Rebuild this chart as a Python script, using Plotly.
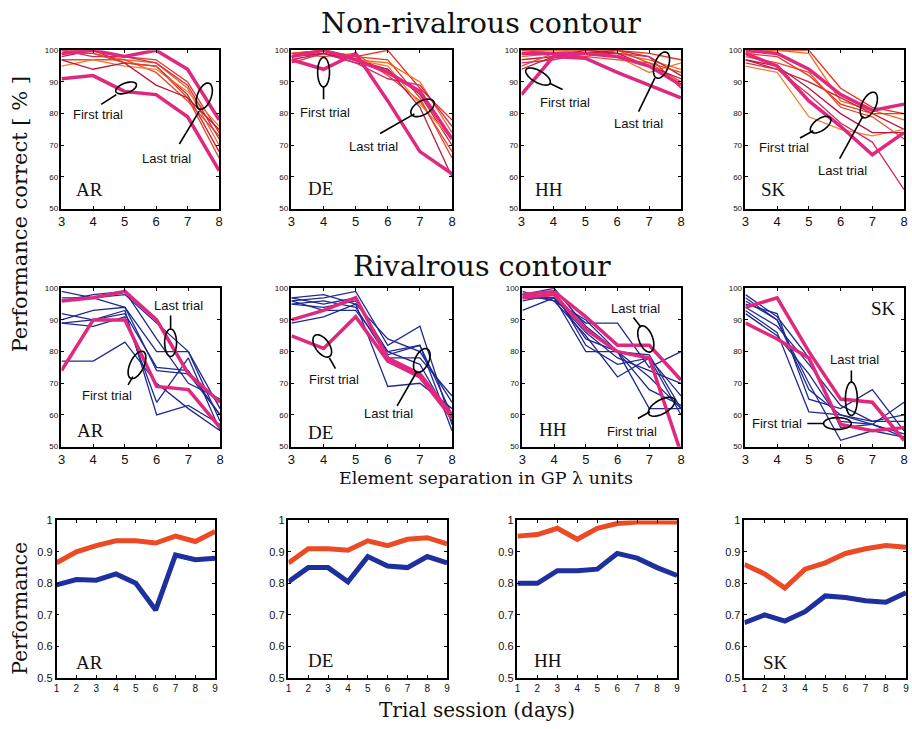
import math
import plotly.graph_objects as go

# ---------------- data ----------------
separation = [3, 4, 5, 6, 7, 8]
sessions = [1, 2, 3, 4, 5, 6, 7, 8, 9]
subjects = ["AR", "DE", "HH", "SK"]

# Non-rivalrous contour: per-session curves (thin) plus first/last trial (thick)
nr_AR_sessions = [
    [100, 100, 98, 97, 90, 74], [99, 99, 97, 96, 88, 70], [98, 100, 96, 95, 86, 68],
    [97, 97, 97, 93, 84, 73], [95, 97, 95, 94, 87, 76], [100, 98, 98, 96, 89, 72],
    [99, 99, 96, 95, 85, 66], [97, 94, 96, 89, 85, 75],
]
nr_AR_first = [91, 92, 87, 86, 79, 62]
nr_AR_last = [99, 100, 98, 100, 94, 78]

nr_DE_sessions = [
    [99, 100, 98, 100, 88, 78], [98, 99, 97, 96, 90, 74], [97, 99, 96, 94, 86, 70],
    [99, 98, 99, 92, 84, 68], [98, 100, 97, 95, 83, 72], [96, 99, 96, 91, 89, 76],
    [99, 100, 98, 97, 85, 66], [98, 99, 97, 94, 82, 60],
]
nr_DE_first = [97, 94, 99, 84, 68, 61]
nr_DE_last = [98, 100, 97, 93, 87, 72]

nr_HH_sessions = [
    [100, 100, 100, 100, 99, 97], [98, 99, 100, 99, 97, 94], [97, 98, 99, 100, 98, 92],
    [95, 99, 98, 97, 96, 90], [99, 100, 99, 98, 93, 96], [96, 97, 99, 99, 98, 88],
    [100, 99, 98, 100, 96, 93], [94, 98, 100, 99, 95, 91],
]
nr_HH_first = [86, 98, 97.5, 93, 89, 85]
nr_HH_last = [99, 99, 99, 98, 95, 89]

nr_SK_sessions = [
    [100, 100, 100, 88, 82, 80], [99, 100, 99, 84, 81, 78], [97, 94, 90, 85, 80, 75],
    [98, 96, 93, 82, 79, 72], [95, 93, 79, 75, 73, 75], [96, 94, 86, 77, 71, 56],
    [99, 98, 92, 83, 80, 80], [97, 95, 88, 80, 74, 74],
]
nr_SK_first = [99, 95, 84, 76, 67, 74]
nr_SK_last = [100, 99, 94, 86, 81, 83]

# Rivalrous contour
rv_AR_sessions = [
    [99, 97, 98, 89, 80, 58], [97, 97, 94, 80, 80, 62], [92, 90, 92, 75, 74, 60],
    [89, 88, 91, 64, 78, 55], [89, 90, 93, 60, 63, 57], [77, 77, 83, 70, 62, 55],
    [90, 93, 94, 74, 73, 60], [96, 98, 99, 84, 70, 65],
]
rv_AR_first = [74, 90, 90, 69, 68, 56]
rv_AR_last = [96, 97, 99, 90, 73, 64]

rv_DE_sessions = [
    [97, 98, 95, 84, 80, 64], [96, 97, 99, 82, 88, 57], [95, 94, 96, 80, 82, 55],
    [89, 91, 95, 69, 70, 62], [95, 96, 94, 78, 78, 66], [96, 93, 93, 80, 76, 58],
    [97, 95, 97, 79, 82, 60],
]
rv_DE_first = [85, 81, 91, 77, 72, 59]
rv_DE_last = [90, 93, 97, 78, 73, 60]

rv_HH_sessions = [
    [98, 100, 88, 80, 79, 62], [97, 97, 80, 80, 68, 63], [93, 97, 89, 89, 75, 80],
    [99, 96, 85, 72, 78, 60], [98, 96, 90, 80, 72, 62], [96, 98, 84, 80, 62, 62],
    [97, 97, 86, 78, 74, 70], [98, 99, 82, 76, 78, 66],
]
rv_HH_first = [97, 98, 87, 80, 78, 48]
rv_HH_last = [98, 99, 91, 82, 82, 71]

rv_SK_sessions = [
    [98, 91, 78, 56, 57, 64], [96, 90, 70, 52, 55, 53], [95, 92, 65, 62, 68, 55],
    [93, 86, 61, 60, 58, 60], [92, 85, 73, 58, 57, 54], [94, 88, 76, 63, 58, 58],
    [97, 90, 68, 60, 57, 53],
]
rv_SK_first = [89, 84, 78, 57, 55, 56]
rv_SK_last = [94, 97, 80, 65, 64, 52]

# Performance over trial sessions (red: non-rivalrous, blue: rivalrous)
perf_AR_nonriv = [0.865, 0.90, 0.92, 0.935, 0.935, 0.928, 0.95, 0.933, 0.965]
perf_AR_riv = [0.795, 0.812, 0.81, 0.83, 0.80, 0.715, 0.89, 0.875, 0.88]
perf_DE_nonriv = [0.865, 0.91, 0.91, 0.905, 0.935, 0.92, 0.94, 0.945, 0.925]
perf_DE_riv = [0.805, 0.85, 0.85, 0.805, 0.885, 0.855, 0.85, 0.885, 0.865]
perf_HH_nonriv = [0.95, 0.955, 0.975, 0.94, 0.975, 0.99, 0.995, 0.995, 0.995]
perf_HH_riv = [0.80, 0.80, 0.84, 0.84, 0.845, 0.895, 0.88, 0.85, 0.825]
perf_SK_nonriv = [0.86, 0.83, 0.785, 0.845, 0.865, 0.895, 0.91, 0.92, 0.915]
perf_SK_riv = [0.675, 0.70, 0.68, 0.71, 0.76, 0.755, 0.745, 0.74, 0.77]

# "First trial" / "Last trial" callouts: text position, leader line, ellipse
# (center, semi-axes in px, orientation in degrees)
callouts = {
    1: [("First trial", (4.16, 79.8), ((4.26, 82.9), (4.74, 86.0)), (5.05, 88.1, 11, 5, 20)),
        ("Last trial", (6.32, 65.8), ((6.74, 70.4), (7.37, 80.8)), (7.53, 85.5, 14, 7, 70))],
    2: [("First trial", (4.05, 80.2), ((4.0, 84.5), (4.0, 88.5)), (4.0, 93.1, 15, 6, 90)),
        ("Last trial", (5.55, 69.6), ((5.76, 73.7), (6.83, 79.9)), (7.08, 81.8, 13, 7, 30))],
    3: [("First trial", (4.37, 83.6), ((3.88, 89.6), (4.29, 87.6)), (3.52, 91.7, 14, 6, -30)),
        ("Last trial", (6.67, 76.9), ((7.18, 91.2), (6.67, 80.6)), (7.39, 95.3, 14, 7, 70))],
    4: [("First trial", (4.22, 69.4), ((5.14, 74.6), (4.72, 72.3)), (5.37, 76.5, 12, 6, 35)),
        ("Last trial", (6.05, 62.1), ((6.71, 79.3), (5.97, 65.8)), (6.89, 82.7, 14, 7, 65))],
    5: [("Last trial", (6.70, 94.7), ((6.44, 87.2), (6.44, 91.4)), (6.44, 82.8, 14, 6, 90)),
        ("First trial", (4.42, 66.1), ((5.25, 72.1), (5.10, 69.5)), (5.38, 75.8, 15, 7, 65))],
    6: [("First trial", (4.34, 71.2), ((4.18, 78.0), (4.37, 74.6)), (3.96, 81.8, 13, 7, 125)),
        ("Last trial", (6.03, 60.4), ((6.91, 73.8), (6.29, 62.9)), (7.06, 77.2, 13, 7, 65))],
    7: [("Last trial", (6.56, 93.6), ((6.74, 87.7), (6.50, 90.8)), (6.89, 84.0, 14, 7, 110)),
        ("First trial", (6.45, 54.9), ((7.02, 61.0), (6.64, 58.9)), (7.39, 62.6, 15, 7, 30))],
    8: [("Last trial", (6.45, 77.4), ((6.34, 70.3), (6.34, 74.0)), (6.34, 65.1, 17, 6, 90)),
        ("First trial", (4.0, 57.3), ((5.48, 57.3), (4.95, 57.3)), (5.9, 57.3, 14, 6, 0))],
}

# ---------------- layout geometry (pixels) ----------------
W, H = 912, 729
panel_x = [
    [(58, 217), (290, 452), (522, 683), (748, 908)],
    [(58, 218), (290, 452), (523, 683), (748, 908)],
    [(53, 213), (287, 447), (518, 679), (747, 910)],
]
panel_y = [(45, 206), (287, 448), (523, 683)]

MAGENTA = "#e0287e"
NAVY = "#1f2a92"
RED = "#ec4a24"
BLUE = "#1e2f9e"
warm_cycle = ["#e8321c", "#f26a1e", "#c0203a", "#e84a2a", "#f08030", "#d42a60", "#ea3d20", "#b8183c"]

nonriv = {
    "AR": (nr_AR_sessions, nr_AR_first, nr_AR_last),
    "DE": (nr_DE_sessions, nr_DE_first, nr_DE_last),
    "HH": (nr_HH_sessions, nr_HH_first, nr_HH_last),
    "SK": (nr_SK_sessions, nr_SK_first, nr_SK_last),
}
riv = {
    "AR": (rv_AR_sessions, rv_AR_first, rv_AR_last),
    "DE": (rv_DE_sessions, rv_DE_first, rv_DE_last),
    "HH": (rv_HH_sessions, rv_HH_first, rv_HH_last),
    "SK": (rv_SK_sessions, rv_SK_first, rv_SK_last),
}
perf = {
    "AR": (perf_AR_nonriv, perf_AR_riv),
    "DE": (perf_DE_nonriv, perf_DE_riv),
    "HH": (perf_HH_nonriv, perf_HH_riv),
    "SK": (perf_SK_nonriv, perf_SK_riv),
}

fig = go.Figure()
layout = {}
annotations = []
shapes = []

SERIF = "Liberation Serif, Times New Roman, serif"
WIDE_SERIF = "DejaVu Serif, serif"
SANS = "Liberation Sans, Arial, sans-serif"


def ax_names(i):
    s = "" if i == 1 else str(i)
    return "x" + s, "y" + s, "xaxis" + s, "yaxis" + s


label_pos = {
    # panel index -> (x domain fraction, y domain fraction)
    1: (0.18, 0.12), 2: (0.18, 0.13), 3: (0.17, 0.12), 4: (0.18, 0.12),
    5: (0.18, 0.10), 6: (0.18, 0.09), 7: (0.19, 0.11), 8: (0.87, 0.87),
    9: (0.21, 0.10), 10: (0.20, 0.11), 11: (0.19, 0.11), 12: (0.19, 0.10),
}

for r in range(3):
    for c, subj in enumerate(subjects):
        i = r * 4 + c + 1
        xn, yn, xk, yk = ax_names(i)
        x0, x1 = panel_x[r][c]
        yt, yb = panel_y[r]
        dom_x = [x0 / W, x1 / W]
        dom_y = [1 - yb / H, 1 - yt / H]
        common = dict(
            showline=True, linecolor="black", linewidth=1.5, mirror="ticks",
            ticks="inside", ticklen=3, tickwidth=1, tickcolor="black",
            showgrid=False, zeroline=False, fixedrange=True,
        )
        if r < 2:
            layout[xk] = dict(common, domain=dom_x, anchor=yn, range=[3, 8],
                              tickvals=separation, ticktext=[str(v) for v in separation],
                              tickfont=dict(family=SANS, size=13, color="#111"))
            layout[yk] = dict(common, domain=dom_y, anchor=xn, range=[50, 100],
                              tickvals=[50, 60, 70, 80, 90, 100],
                              tickfont=dict(family=SANS, size=8, color="#111"))
            sess, first, last = (nonriv if r == 0 else riv)[subj]
            for k, s in enumerate(sess):
                col = warm_cycle[k % len(warm_cycle)] if r == 0 else NAVY
                fig.add_trace(go.Scatter(x=separation, y=s, mode="lines", xaxis=xn, yaxis=yn,
                                         line=dict(color=col, width=1.3), showlegend=False,
                                         hoverinfo="skip"))
            for s in (first, last):
                fig.add_trace(go.Scatter(x=separation, y=s, mode="lines", xaxis=xn, yaxis=yn,
                                         line=dict(color=MAGENTA, width=3.5), showlegend=False,
                                         hoverinfo="skip"))
            # callouts
            pxu = (x1 - x0) / 5.0
            pyu = (yb - yt) / 50.0
            for text, tpos, seg, ell in callouts[i]:
                annotations.append(dict(x=tpos[0], y=tpos[1], xref=xn, yref=yn, text=text,
                                        xanchor="center", yanchor="middle",
                                        showarrow=False, font=dict(family=SANS, size=13, color="#111")))
                shapes.append(dict(type="line", xref=xn, yref=yn, x0=seg[0][0], y0=seg[0][1],
                                   x1=seg[1][0], y1=seg[1][1], line=dict(color="black", width=1.6)))
                cx, cy, a, b, th = ell
                t = math.radians(th)
                pts = []
                for n in range(41):
                    p = 2 * math.pi * n / 40
                    dx = a * math.cos(p) * math.cos(t) - b * math.sin(p) * math.sin(t)
                    dy = a * math.cos(p) * math.sin(t) + b * math.sin(p) * math.cos(t)
                    pts.append((cx + dx / pxu, cy + dy / pyu))
                path = "M " + " L ".join(f"{px:.4f},{py:.4f}" for px, py in pts) + " Z"
                shapes.append(dict(type="path", xref=xn, yref=yn, path=path,
                                   line=dict(color="black", width=1.6)))
        else:
            layout[xk] = dict(common, domain=dom_x, anchor=yn, range=[1, 9],
                              tickvals=sessions,
                              tickfont=dict(family=SANS, size=10, color="#111"))
            layout[yk] = dict(common, domain=dom_y, anchor=xn, range=[0.5, 1.0],
                              tickvals=[0.5, 0.6, 0.7, 0.8, 0.9, 1.0],
                              ticktext=["0.5", "0.6", "0.7", "0.8", "0.9", "1"],
                              tickfont=dict(family=SANS, size=11, color="#111"))
            nr, rv = perf[subj]
            fig.add_trace(go.Scatter(x=sessions, y=nr, mode="lines", xaxis=xn, yaxis=yn,
                                     line=dict(color=RED, width=5), showlegend=False, hoverinfo="skip"))
            fig.add_trace(go.Scatter(x=sessions, y=rv, mode="lines", xaxis=xn, yaxis=yn,
                                     line=dict(color=BLUE, width=5), showlegend=False, hoverinfo="skip"))
        lx, ly = label_pos[i]
        annotations.append(dict(x=lx, y=ly, xref=xn + " domain", yref=yn + " domain", text=subj,
                                xanchor="center", yanchor="middle",
                                showarrow=False, font=dict(family=SERIF, size=19, color="#111")))


def caption(x, y, text, size, angle=0):
    return dict(x=x / W, y=1 - y / H, xref="paper", yref="paper", text=text,
                xanchor="center", yanchor="middle", textangle=angle, showarrow=False,
                font=dict(family=WIDE_SERIF, size=size, color="#111"))


# titles and axis captions
annotations += [
    caption(481, 18, "Non-rivalrous contour", 28.5),
    caption(482, 265, "Rivalrous contour", 28.5),
    caption(486, 480, "Element separation in GP λ units", 17.5),
    caption(477, 716, "Trial session (days)", 20),
    caption(16, 212, "Performance correct [ % ]", 21, -90),
    caption(16, 612, "Performance", 20.5, -90),
]

fig.update_layout(
    width=W, height=H, margin=dict(l=0, r=0, t=0, b=0),
    paper_bgcolor="white", plot_bgcolor="white",
    annotations=annotations, shapes=shapes, **layout,
)

fig.write_html("out.html")
